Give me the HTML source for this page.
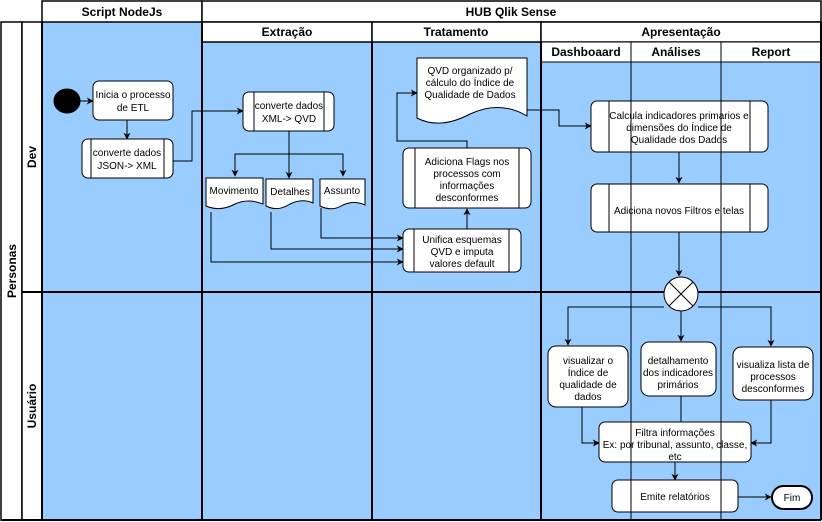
<!DOCTYPE html>
<html><head><meta charset="utf-8"><style>
html,body{margin:0;padding:0;background:#fff}
svg{display:block}
text{font-family:"Liberation Sans",Arial,sans-serif;font-size:10px;fill:#000}
.b{font-weight:bold;font-size:12px}
</style></head><body>
<svg width="822" height="522" viewBox="0 0 822 522" xmlns="http://www.w3.org/2000/svg">
<defs>
<marker id="a" viewBox="0 0 10 10" refX="9" refY="5" markerWidth="7" markerHeight="7" orient="auto"><path d="M0,0 L10,5 L0,10 L3,5 Z" fill="#000"/></marker>
</defs>
<rect x="0" y="0" width="822" height="522" fill="#fff"/>
<!-- lane fills -->
<rect x="42" y="22" width="160" height="498" fill="#99CCFF"/>
<rect x="202" y="42" width="339" height="478" fill="#99CCFF"/>
<rect x="541" y="62" width="280" height="458" fill="#99CCFF"/>
<!-- headers -->
<g stroke="#000" fill="#fff">
<rect x="42" y="1" width="160" height="21" stroke-width="1.5"/>
<rect x="202" y="1" width="619" height="21" stroke-width="1.5"/>
<rect x="202" y="22" width="170" height="20" stroke-width="1.5"/>
<rect x="372" y="22" width="169" height="20" stroke-width="1.5"/>
<rect x="541" y="22" width="280" height="20" stroke-width="1.5"/>
<rect x="541" y="42" width="280" height="20" stroke-width="1"/>
<rect x="1" y="22" width="21" height="498" stroke-width="1.5"/>
<rect x="22" y="22" width="20" height="270" stroke-width="1.5"/>
<rect x="22" y="292" width="20" height="228" stroke-width="1.5"/>
</g>
<text class="b" x="122" y="16" text-anchor="middle">Script NodeJs</text>
<text class="b" x="511" y="16" text-anchor="middle">HUB Qlik Sense</text>
<text class="b" x="287" y="36" text-anchor="middle">Extração</text>
<text class="b" x="456" y="36" text-anchor="middle">Tratamento</text>
<text class="b" x="681" y="36" text-anchor="middle">Apresentação</text>
<text class="b" x="586" y="56" text-anchor="middle">Dashboaard</text>
<text class="b" x="676" y="56" text-anchor="middle">Análises</text>
<text class="b" x="771" y="56" text-anchor="middle">Report</text>
<text class="b" transform="translate(16,271) rotate(-90)" text-anchor="middle">Personas</text>
<text class="b" transform="translate(36,157) rotate(-90)" text-anchor="middle">Dev</text>
<text class="b" transform="translate(36,406) rotate(-90)" text-anchor="middle">Usuário</text>
<!-- lane lines -->
<g stroke="#000" stroke-width="2" fill="none">
<line x1="42" y1="22" x2="42" y2="520"/>
<line x1="202" y1="22" x2="202" y2="520"/>
<line x1="372" y1="42" x2="372" y2="520"/>
<line x1="541" y1="42" x2="541" y2="520"/>
<line x1="821" y1="22" x2="821" y2="520"/>
<line x1="22" y1="292" x2="821" y2="292"/>
<line x1="1" y1="520" x2="821" y2="520"/>
</g>
<!-- edges -->
<g stroke="#000" stroke-width="1" fill="none" marker-end="url(#a)">
<line x1="80" y1="101" x2="93" y2="101"/>
<line x1="127" y1="120" x2="127" y2="139"/>
<polyline points="173,161 192,161 192,111 243,111"/>
<line x1="289" y1="131" x2="289" y2="178"/>
<polyline points="289,154 235,154 235,176"/>
<polyline points="289,154 343,154 343,176"/>
<polyline points="321,208 321,238 403,238"/>
<polyline points="271,212 271,249 403,249"/>
<polyline points="211,212 211,262 403,262"/>
<line x1="467" y1="229" x2="467" y2="209"/>
<polyline points="467,148 467,141 397,141 397,93 417,93"/>
<polyline points="527,110 559,110 559,126 591,126"/>
<line x1="679" y1="152" x2="679" y2="183"/>
<line x1="679" y1="232" x2="679" y2="276"/>
<polyline points="664,307 568,307 568,345"/>
<line x1="681" y1="311" x2="681" y2="341"/>
<polyline points="698,307 771,307 771,346"/>
<polyline points="582,407 582,443 599,443"/>
<polyline points="771,400 771,443 751,443"/>
<line x1="675" y1="462" x2="675" y2="480"/>
<line x1="738" y1="497" x2="771" y2="497"/>
</g>
<line x1="681" y1="396" x2="681" y2="422" stroke="#000"/>
<!-- nodes -->
<g stroke="#000" stroke-width="1" fill="#fff">
<ellipse cx="67" cy="101" rx="13" ry="12" fill="#000"/>
<rect x="93" y="81" width="80" height="39" rx="6"/>
<rect x="82" y="139" width="91" height="39" rx="6"/>
<line x1="91" y1="139" x2="91" y2="178"/><line x1="164" y1="139" x2="164" y2="178"/>
<rect x="243" y="92" width="91" height="39" rx="6"/>
<line x1="254" y1="92" x2="254" y2="131"/><line x1="324" y1="92" x2="324" y2="131"/>
<path d="M206,178 H263 V204 Q248,198 235,204 Q220,212 206,206 Z"/>
<path d="M266,179 H313 V203 Q302,198 290,204 Q278,212 266,206 Z"/>
<path d="M320,179 H365 V205 Q354,200 343,205 Q332,212 320,206 Z"/>
<rect x="403" y="229" width="118" height="43" rx="6"/>
<line x1="414" y1="229" x2="414" y2="272"/><line x1="509" y1="229" x2="509" y2="272"/>
<rect x="403" y="148" width="128" height="60" rx="6"/>
<line x1="415" y1="148" x2="415" y2="208"/><line x1="519" y1="148" x2="519" y2="208"/>
<path d="M417,58 H527 V116 Q500,100 470,114 Q440,130 417,118 Z"/>
<rect x="591" y="101" width="177" height="51" rx="6"/>
<line x1="609" y1="101" x2="609" y2="152"/><line x1="750" y1="101" x2="750" y2="152"/>
<rect x="591" y="184" width="177" height="48" rx="6"/>
<line x1="609" y1="184" x2="609" y2="232"/><line x1="750" y1="184" x2="750" y2="232"/>
<circle cx="681" cy="294" r="17"/>
<line x1="669" y1="282" x2="693" y2="306"/><line x1="693" y1="282" x2="669" y2="306"/>
<rect x="548" y="346" width="80" height="61" rx="8"/>
<rect x="641" y="342" width="75" height="54" rx="8"/>
<rect x="733" y="347" width="80" height="53" rx="8"/>
<rect x="599" y="422" width="152" height="40" rx="6"/>
<rect x="612" y="480" width="126" height="32" rx="6"/>
<rect x="772" y="486" width="40" height="23" rx="11.5" stroke-width="2"/>
</g>
<!-- texts -->
<g text-anchor="middle">
<text x="133" y="98">Inicia o processo</text><text x="133" y="111">de ETL</text>
<text x="127" y="156">converte dados</text><text x="127" y="169">JSON-&gt; XML</text>
<text x="289" y="109">converte dados</text><text x="289" y="122">XML-&gt; QVD</text>
<text x="234" y="194">Movimento</text>
<text x="290" y="195">Detalhes</text>
<text x="342" y="194">Assunto</text>
<text x="462" y="243">Unifica esquemas</text><text x="462" y="255">QVD  e imputa</text><text x="462" y="267">valores default</text>
<text x="467" y="165">Adiciona Flags nos</text><text x="467" y="177">processos com</text><text x="467" y="189">informações</text><text x="467" y="201">desconformes</text>
<text x="470" y="74">QVD organizado p/</text><text x="470" y="86">cálculo do Índice de</text><text x="470" y="98">Qualidade de Dados</text>
<text x="679" y="119">Calcula indicadores primarios e</text><text x="679" y="131">dimensões do Índice de</text><text x="679" y="143">Qualidade dos Dados</text>
<text x="679" y="214">Adiciona novos Filtros e telas</text>
<text x="588" y="364">visualizar o</text><text x="588" y="376">Índice de</text><text x="588" y="388">qualidade de</text><text x="588" y="400">dados</text>
<text x="678" y="364">detalhamento</text><text x="678" y="376">dos indicadores</text><text x="678" y="388">primários</text>
<text x="773" y="368">visualiza lista de</text><text x="773" y="380">processos</text><text x="773" y="392">desconformes</text>
<text x="675" y="436">Filtra informações</text><text x="675" y="448">Ex: por tribunal, assunto, classe,</text><text x="675" y="460">etc</text>
<text x="675" y="500">Emite relatórios</text>
<text x="792" y="501">Fim</text>
</g>
<!-- overlay column lines -->
<g stroke="#000" stroke-width="1">
<line x1="631" y1="42" x2="631" y2="520"/>
<line x1="721" y1="42" x2="721" y2="520"/>
</g>
</svg>
</body></html>
